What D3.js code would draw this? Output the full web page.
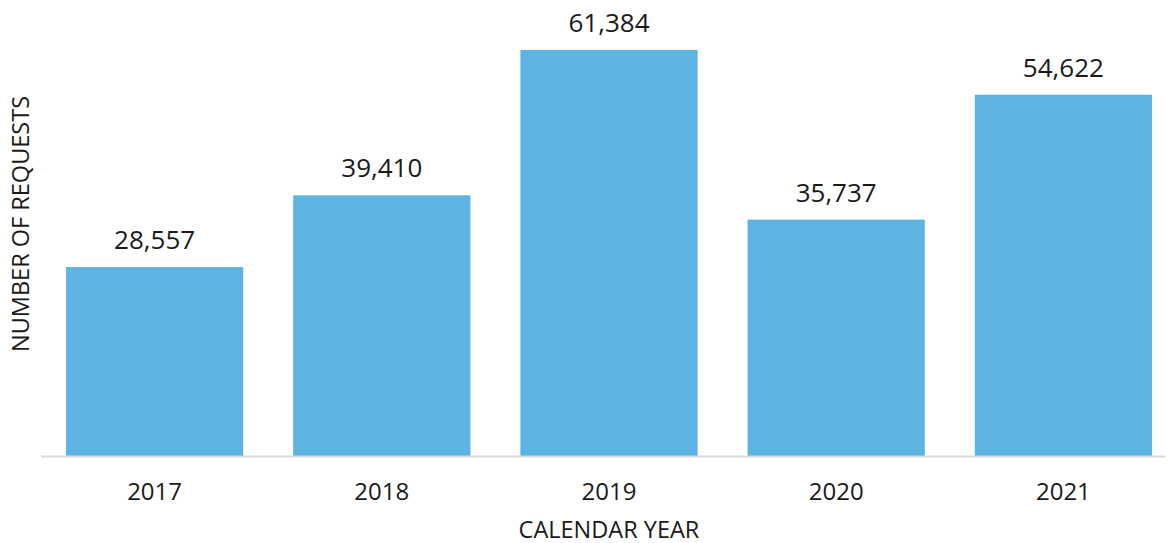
<!DOCTYPE html>
<html>
<head>
<meta charset="utf-8">
<script src="https://cdn.jsdelivr.net/npm/d3@7"></script>
<style>
  body { margin: 0; background: #fff; }
  text { font-family: "Open Sans", sans-serif; fill: #1a1a1a; }
</style>
</head>
<body>
<div id="chart"></div>
<script>
const years = ["2017", "2018", "2019", "2020", "2021"];
const requests = [28557, 39410, 61384, 35737, 54622];

const chartWidth = 1171;
const chartHeight = 543;
const barColor = "#5DB4E2";
const axisColor = "#d9d9d9";

const svg = d3.select('#chart').append('svg')
    .attr('width', chartWidth)
    .attr('height', chartHeight);

const x = d3.scaleBand()
    .domain(years)
    .range([41, 1177])
    .paddingInner(0.22)
    .paddingOuter(0.11);

const y = d3.scaleLinear()
    .domain([0, 61384])
    .range([456, 50]);

svg.append('g').selectAll('rect')
    .data(years)
    .join('rect')
    .attr('x', d => x(d))
    .attr('y', (d, i) => y(requests[i]))
    .attr('width', x.bandwidth())
    .attr('height', (d, i) => y(0) - y(requests[i]))
    .attr('fill', barColor);

// baseline
svg.append('line')
    .attr('x1', 41).attr('x2', 1165)
    .attr('y1', 456.5).attr('y2', 456.5)
    .attr('stroke', axisColor)
    .attr('stroke-width', 2);

// value labels
svg.append('g').selectAll('text')
    .data(years)
    .join('text')
    .attr('x', d => x(d) + x.bandwidth() / 2)
    .attr('y', (d, i) => y(requests[i]) - 18)
    .attr('text-anchor', 'middle')
    .style('font-size', '26px')
    .text((d, i) => d3.format(',')(requests[i]));

// x tick labels
svg.append('g').selectAll('text')
    .data(years)
    .join('text')
    .attr('x', d => x(d) + x.bandwidth() / 2)
    .attr('y', 500)
    .attr('text-anchor', 'middle')
    .style('font-size', '24px')
    .text(d => d);

svg.append('text')
    .attr('x', 609)
    .attr('y', 538)
    .attr('text-anchor', 'middle')
    .style('font-size', '23.5px')
    .text('CALENDAR YEAR');

svg.append('text')
    .attr('transform', 'translate(29,224) rotate(-90)')
    .attr('text-anchor', 'middle')
    .style('font-size', '23.5px')
    .text('NUMBER OF REQUESTS');
</script>
</body>
</html>
